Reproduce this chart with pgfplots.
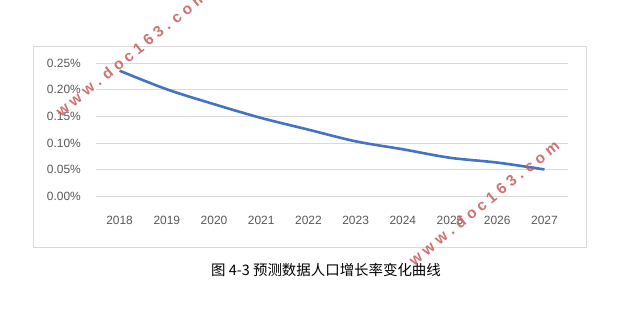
\documentclass[border=0pt]{standalone}
\usepackage{fontspec}
\setmainfont{Liberation Sans}
\newfontfamily\cjk{Noto Sans CJK SC}
\usepackage{pgfplots}
\pgfplotsset{compat=1.18}
\definecolor{lineblue}{HTML}{4472C4}
\definecolor{gridgray}{HTML}{D9D9D9}
\definecolor{ticktext}{HTML}{595959}
\definecolor{wm}{HTML}{C85A5A}
\begin{document}
\begin{tikzpicture}[x=1bp,y=1bp]
\path[use as bounding box, fill=white] (0,0) rectangle (644,331);
\draw[gridgray, line width=0.75bp] (33,84) rectangle (586,285);
\begin{axis}[
  at={(96bp,135bp)}, anchor=south west,
  scale only axis, width=472bp, height=132.7bp,
  xmin=-0.5, xmax=9.5, ymin=0, ymax=0.25,
  xtick={0,...,9},
  xticklabels={2018,2019,2020,2021,2022,2023,2024,2025,2026,2027},
  ytick={0,0.05,0.10,0.15,0.20,0.25},
  yticklabels={0.00\%,0.05\%,0.10\%,0.15\%,0.20\%,0.25\%},
  axis line style={draw=none},
  major tick length=0pt,
  ymajorgrids, grid style={gridgray, line width=0.75bp},
  tick label style={font=\fontsize{12}{12}\selectfont, text=ticktext},
  /pgf/number format/assume math mode=true,
  xticklabel style={inner sep=0pt, anchor=center, yshift=-24bp},
  yticklabel style={inner sep=0pt, anchor=east, xshift=-15bp},
  clip=false,
]
\addplot[lineblue, line width=2.6bp, smooth, tension=0.5] coordinates {
  (0,0.236) (1,0.201) (2,0.173) (3,0.147) (4,0.125)
  (5,0.103) (6,0.088) (7,0.072) (8,0.063) (9,0.050)
};
\end{axis}
\node[font=\cjk\fontsize{14.5}{15}\selectfont, anchor=center] at (326,61) {图 4-3 预测数据人口增长率变化曲线};
\node[font=\bfseries\fontsize{15.5}{16}\selectfont, text=wm, opacity=0.85, rotate=39] at (131,277) {w w w . d o c 1 6 3 . c o m};
\node[font=\bfseries\fontsize{15.5}{16}\selectfont, text=wm, opacity=0.85, rotate=39] at (484,128) {w w w . d o c 1 6 3 . c o m};
\end{tikzpicture}
\end{document}
